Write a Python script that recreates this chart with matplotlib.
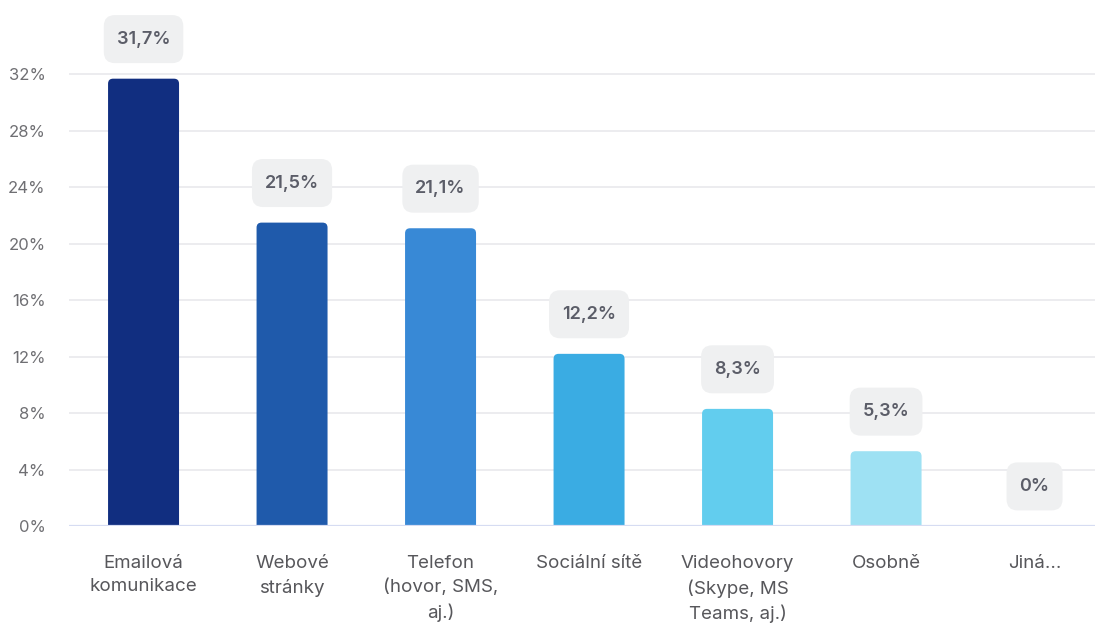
import matplotlib
matplotlib.use('Agg')
import matplotlib.pyplot as plt
from matplotlib.patches import FancyBboxPatch
from matplotlib.ticker import FixedLocator
from matplotlib.transforms import IdentityTransform

plt.rcParams['font.family'] = ['Inter', 'DejaVu Sans']

# ── Data ──────────────────────────────────────────────────────────────────────
categories = ['Emailová\nkomunikace', 'Webové\nstránky', 'Telefon\n(hovor, SMS,\naj.)',
              'Sociální sítě', 'Videohovory\n(Skype, MS\nTeams, aj.)', 'Osobně', 'Jiná...']
values = [31.7, 21.5, 21.1, 12.2, 8.3, 5.3, 0.0]
value_labels = ['31,7%', '21,5%', '21,1%', '12,2%', '8,3%', '5,3%', '0%']
yticks = [0, 4, 8, 12, 16, 20, 24, 28, 32]
bar_colors = ['#112e80', '#1f5aab', '#3889d6', '#3aace3', '#62cdee', '#9ee1f3', '#c9eef8']

W, H = 1097, 624
fig = plt.figure(figsize=(W / 100, H / 100), dpi=100, facecolor='white')
ax = fig.add_axes([69 / W, 98 / H, (1095 - 69) / W, (526 - 18) / H])
ax.set_xlim(-0.502, 6.407)
ax.set_ylim(0, 36)

# grid and baseline
for t in yticks[1:]:
    ax.axhline(t, color='#e9e9ec', linewidth=1.2, zorder=0)
ax.axhline(0, color='#d6dcf2', linewidth=1.6, zorder=3)

# bars with rounded top corners (bottom pushed below the baseline and clipped)
bar_w = 0.478
px_x = (1095 - 69) / (6.407 + 0.502)
px_y = (526 - 18) / 36
radius = 5 / px_x
bars = ax.bar(range(len(values)), values, width=bar_w, color='none')
for rect, col in zip(bars, bar_colors):
    h = rect.get_height()
    if h <= 0:
        continue
    patch = FancyBboxPatch((rect.get_x(), -1), bar_w, h + 1,
                           boxstyle=f'round,pad=0,rounding_size={radius}',
                           mutation_aspect=px_x / px_y,
                           facecolor=col, edgecolor='none', zorder=2)
    ax.add_patch(patch)

# value labels
texts = []
for i, (v, lbl) in enumerate(zip(values, value_labels)):
    t = ax.annotate(lbl, xy=(i, v), xytext=(0, 28.5), textcoords='offset points',
                    ha='center', va='center', fontsize=13, fontweight='semibold',
                    color='#5b5d68', annotation_clip=False, zorder=6)
    texts.append(t)

ax.yaxis.set_major_locator(FixedLocator(yticks))
ax.set_yticklabels([f'{t}%' for t in yticks])
ax.set_xticks(range(len(categories)))
ax.set_xticklabels(categories, linespacing=1.48)
ax.tick_params(axis='y', length=0, pad=17, labelsize=12, labelcolor='#6f6f73')
ax.tick_params(axis='x', length=0, pad=21, labelsize=13.5, labelcolor='#57575b')
for lab in ax.get_yticklabels():
    lab.set_horizontalalignment('right')
for s in ax.spines.values():
    s.set_visible(False)

# light rounded boxes behind the value labels, sized from the rendered text
fig.canvas.draw()
renderer = fig.canvas.get_renderer()
for t in texts:
    bb = t.get_window_extent(renderer)
    cy = (bb.y0 + bb.y1) / 2
    box = FancyBboxPatch((bb.x0 - 13, cy - 24), bb.width + 26, 48,
                         boxstyle='round,pad=0,rounding_size=11',
                         facecolor='#eff0f1', edgecolor='none',
                         transform=IdentityTransform(), clip_on=False, zorder=5)
    ax.add_artist(box)

fig.savefig('out.png', dpi=100, facecolor='white')
